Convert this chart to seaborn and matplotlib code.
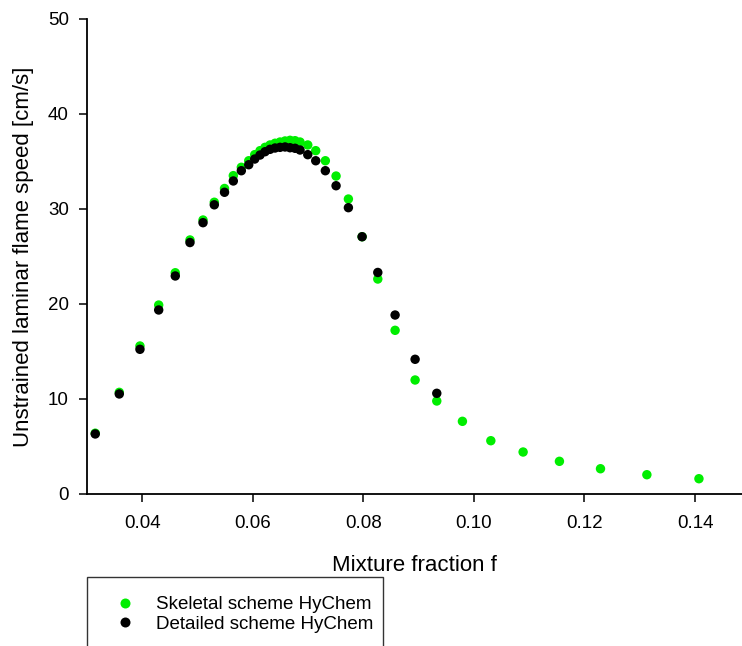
import numpy as np
import pandas as pd
import matplotlib
matplotlib.use("Agg")
import matplotlib.pyplot as plt
import seaborn as sns

# Mixture fraction grid shared by both mechanisms
f_common = [0.03149, 0.03584, 0.03958, 0.04297, 0.04597, 0.04863, 0.05099,
            0.05303, 0.05488, 0.05647, 0.05792, 0.05926, 0.06034, 0.06130,
            0.06221, 0.06311, 0.06402, 0.06492, 0.06583, 0.06673, 0.06764,
            0.06854, 0.06994, 0.07138, 0.07312, 0.07506, 0.07729, 0.07977,
            0.08261, 0.08574, 0.08936, 0.09328]
# Extra rich-side points computed only with the skeletal scheme
f_rich = [0.09792, 0.10306, 0.10890, 0.11547, 0.12290, 0.13129, 0.14071]

# Laminar flame speeds [cm/s]
s_skeletal = [6.40, 10.70, 15.58, 19.89, 23.29, 26.74, 28.84, 30.71, 32.16,
              33.51, 34.39, 35.08, 35.72, 36.14, 36.49, 36.74, 36.92, 37.05,
              37.16, 37.23, 37.19, 37.05, 36.74, 36.14, 35.08, 33.47, 31.05,
              27.08, 22.63, 17.23, 12.00, 9.79,
              7.65, 5.61, 4.42, 3.44, 2.66, 2.03, 1.61]
s_detailed = [6.32, 10.53, 15.23, 19.37, 22.95, 26.47, 28.56, 30.44, 31.76,
              32.95, 34.03, 34.66, 35.26, 35.68, 36.03, 36.28, 36.42, 36.49,
              36.53, 36.45, 36.39, 36.21, 35.72, 35.08, 34.03, 32.45, 30.14,
              27.08, 23.32, 18.84, 14.18, 10.60]

series_names = ["Skeletal scheme HyChem", "Detailed scheme HyChem"]
series_colors = ["#00ee00", "#000000"]

df = pd.concat([
    pd.DataFrame({"f": f_common + f_rich, "S": s_skeletal, "scheme": series_names[0]}),
    pd.DataFrame({"f": f_common, "S": s_detailed, "scheme": series_names[1]}),
], ignore_index=True)

sns.set_style("ticks")
plt.rcParams["font.family"] = ["Liberation Sans", "DejaVu Sans"]
plt.rcParams["text.color"] = "black"
plt.rcParams["axes.labelcolor"] = "black"

W, H = 742, 646
fig = plt.figure(figsize=(W / 100, H / 100), dpi=100)
ax = fig.add_axes([87 / W, 1 - 494 / H, (W - 87) / W, (494 - 19) / H])

sns.scatterplot(data=df, x="f", y="S", hue="scheme", hue_order=series_names,
                palette=series_colors, s=46, edgecolor="none", linewidth=0,
                legend=False, ax=ax)

ax.set_xlim(0.03, 0.1485)
ax.set_ylim(0, 50)
ax.set_xticks([0.04, 0.06, 0.08, 0.10, 0.12, 0.14])
ax.set_xticklabels(["0.04", "0.06", "0.08", "0.10", "0.12", "0.14"])
ax.set_yticks([0, 10, 20, 30, 40, 50])
ax.tick_params(axis="both", direction="out", length=6, width=1.1,
               labelsize=13.5, color="black", labelcolor="black")
ax.tick_params(axis="x", pad=9)
ax.tick_params(axis="y", pad=7)
sns.despine(ax=ax)
for side in ("left", "bottom"):
    ax.spines[side].set_linewidth(1.3)
    ax.spines[side].set_color("black")

ax.set_xlabel("Mixture fraction f", fontsize=16, labelpad=17)
ax.set_ylabel("Unstrained laminar flame speed [cm/s]", fontsize=16, labelpad=10)

handles = [plt.Line2D([], [], linestyle="none", marker="o", markersize=7.2,
                      markerfacecolor=c, markeredgecolor="none") for c in series_colors]
leg = fig.legend(handles, series_names, loc="upper left",
                 bbox_to_anchor=(87 / W, 1 - 578 / H, (383 - 87) / W, 0.001),
                 mode="expand", fontsize=13.5, frameon=True, fancybox=False,
                 borderpad=1.0, handlelength=2.0, handletextpad=0.7,
                 labelspacing=0.12, borderaxespad=0)
leg.get_frame().set_edgecolor("black")
leg.get_frame().set_linewidth(1.0)

fig.savefig("out.png", dpi=100)
